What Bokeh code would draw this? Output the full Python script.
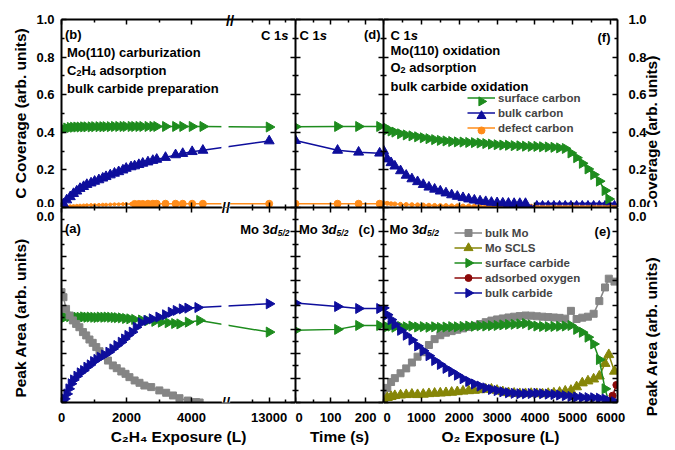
import math
from bokeh.plotting import figure
from bokeh.models import (Range1d, LinearAxis, FixedTicker, Label, Legend,
                          LegendItem, ColumnDataSource, PrintfTickFormatter)
from bokeh.layouts import gridplot
from bokeh.embed import file_html
from bokeh.resources import INLINE

FONT = "Liberation Sans"
GREEN = "#1E8C1E"
BLUE = "#0E0E9C"
ORANGE = "#FF8C1A"
GRAY = "#858585"
OLIVE = "#868608"
WINE = "#8C0A0A"

# ---------------- data: (b) C 1s, C2H4 exposure (L) ----------------
c2h4_c1s = [60, 160, 270, 370, 470, 570, 680, 780, 910, 1020,
            1150, 1270, 1370, 1500, 1630, 1760, 1890, 1990, 2140, 2250,
            2380, 2500, 2660, 2810, 2930, 3200, 3510, 3730, 4020, 4350,
            13000]
surface_carbon_b = [0.418, 0.423, 0.426, 0.427, 0.428, 0.428, 0.429, 0.429, 0.429, 0.430,
                    0.430, 0.430, 0.430, 0.430, 0.431, 0.431, 0.431, 0.431, 0.431, 0.431,
                    0.431, 0.431, 0.431, 0.431, 0.431, 0.431, 0.431, 0.431, 0.431, 0.431,
                    0.428]
bulk_carbon_b = [0.019, 0.040, 0.057, 0.074, 0.087, 0.101, 0.111, 0.122, 0.130, 0.139,
                 0.147, 0.156, 0.164, 0.173, 0.182, 0.190, 0.199, 0.208, 0.216, 0.221,
                 0.228, 0.235, 0.242, 0.250, 0.256, 0.266, 0.280, 0.287, 0.297, 0.304,
                 0.354]
defect_carbon_b = [0.005, 0.006, 0.007, 0.008, 0.009, 0.010, 0.011, 0.012, 0.013, 0.013,
                   0.014, 0.015, 0.015, 0.016, 0.017, 0.017, 0.018, 0.018, 0.019, 0.019,
                   0.019, 0.019, 0.020, 0.020, 0.020, 0.020, 0.020, 0.020, 0.020, 0.020,
                   0.020]

# ---------------- data: (a) Mo 3d5/2, C2H4 exposure (L) ----------------
c2h4_bulk_mo = [0, 60, 140, 250, 350, 450, 550, 660, 760, 860,
                960, 1070, 1170, 1270, 1430, 1580, 1700, 1840, 1970, 2090,
                2250, 2400, 2550, 2760, 3010, 3220, 3430, 3630, 3890, 4140,
                4250]
bulk_mo_a = [0.566, 0.540, 0.480, 0.446, 0.421, 0.403, 0.386, 0.361, 0.344, 0.323,
             0.306, 0.284, 0.263, 0.241, 0.215, 0.190, 0.176, 0.159, 0.147, 0.130,
             0.113, 0.101, 0.087, 0.079, 0.062, 0.050, 0.036, 0.022, 0.010, 0.002,
             0.000]
c2h4_bulk_carbide = [30, 92, 164, 226, 297, 369, 472, 574, 677, 779,
                     882, 985, 1087, 1190, 1323, 1456, 1579, 1703, 1836, 1938,
                     2041, 2174, 2297, 2451, 2626, 2790, 2995, 3200, 3374, 3528,
                     3713, 3887, 4195, 13000]
bulk_carbide_a = [0.010, 0.019, 0.044, 0.070, 0.096, 0.116, 0.135, 0.152, 0.164, 0.181,
                  0.193, 0.210, 0.221, 0.232, 0.244, 0.258, 0.275, 0.292, 0.309, 0.326,
                  0.344, 0.361, 0.386, 0.409, 0.421, 0.429, 0.438, 0.450, 0.463, 0.472,
                  0.480, 0.484, 0.487, 0.506]
c2h4_surface_carbide = [30, 120, 250, 370, 470, 570, 680, 780, 880, 990,
                        1090, 1190, 1300, 1400, 1510, 1620, 1720, 1840, 1970, 2100,
                        2250, 2460, 2660, 2870, 3070, 3280, 3480, 3640, 3900, 4250,
                        13000]
surface_carbide_a = [0.432, 0.438, 0.440, 0.438, 0.437, 0.437, 0.439, 0.437, 0.438, 0.437,
                     0.436, 0.438, 0.437, 0.438, 0.437, 0.436, 0.435, 0.434, 0.431, 0.429,
                     0.426, 0.423, 0.420, 0.416, 0.412, 0.409, 0.405, 0.403, 0.412, 0.421,
                     0.361]

# ---------------- data: (c)/(d) time (s) ----------------
time_s = [0, 120, 180, 240]
surface_carbon_d = [0.430, 0.431, 0.431, 0.431]
bulk_carbon_d = [0.356, 0.304, 0.294, 0.289]
defect_carbon_d = [0.020, 0.020, 0.020, 0.020]
surface_carbide_c = [0.370, 0.375, 0.395, 0.395]
bulk_carbide_c = [0.510, 0.492, 0.482, 0.482]

# ---------------- data: (e)/(f) O2 exposure (L) ----------------
o2_exposure = [0, 100, 200, 300, 450, 600, 750, 900, 1050, 1200,
               1350, 1500, 1650, 1800, 1950, 2100, 2250, 2400, 2550, 2700,
               2850, 3000, 3150, 3300, 3450, 3600, 3750, 3900, 4050, 4200,
               4350, 4500, 4650, 4800, 4950, 5100, 5250, 5400, 5550, 5700,
               5850, 5950, 6100]
surface_carbon_f = [0.431, 0.414, 0.407, 0.401, 0.392, 0.386, 0.381, 0.376, 0.371, 0.366,
                    0.361, 0.357, 0.354, 0.351, 0.349, 0.348, 0.346, 0.345, 0.343, 0.340,
                    0.337, 0.334, 0.332, 0.331, 0.329, 0.328, 0.326, 0.325, 0.325, 0.323,
                    0.322, 0.320, 0.317, 0.314, 0.290, 0.265, 0.235, 0.205, 0.175, 0.140,
                    0.090, 0.045]
bulk_carbon_f = [0.302, 0.258, 0.238, 0.220, 0.195, 0.171, 0.152, 0.137, 0.122, 0.108,
                 0.097, 0.087, 0.077, 0.067, 0.059, 0.052, 0.045, 0.039, 0.034, 0.031,
                 0.027, 0.025, 0.023, 0.022, 0.021, 0.021, 0.021, 0.000, 0.022, 0.022,
                 0.022, 0.022, 0.022, 0.022, 0.022, 0.022, 0.022, 0.022, 0.022, 0.022,
                 0.022, 0.022, 0.022]
defect_carbon_f = [0.025, 0.022, 0.020, 0.019, 0.017, 0.016, 0.015, 0.014, 0.013, 0.012,
                   0.011, 0.010, 0.010, 0.009, 0.009, 0.008, 0.008, 0.008, 0.007, 0.007,
                   0.007, 0.007, 0.007, 0.007, 0.007, 0.007, 0.007, 0.007, 0.007, 0.007,
                   0.007, 0.007, 0.007, 0.007, 0.007, 0.007, 0.007, 0.007, 0.008, 0.008,
                   0.009, 0.010, 0.010]
bulk_mo_e = [0.030, 0.075, 0.105, 0.125, 0.150, 0.175, 0.205, 0.235, 0.258, 0.295,
             0.325, 0.345, 0.358, 0.366, 0.373, 0.380, 0.387, 0.393, 0.402, 0.412,
             0.420, 0.426, 0.431, 0.436, 0.440, 0.443, 0.446, 0.445, 0.442, 0.440,
             0.438, 0.436, 0.434, 0.430, 0.470, 0.428, 0.435, 0.440, 0.455, 0.520,
             0.590, 0.635, 0.620]
mo_scls_e = [0.010, 0.025, 0.030, 0.035, 0.038, 0.040, 0.042, 0.040, 0.042, 0.045,
             0.047, 0.048, 0.050, 0.052, 0.055, 0.058, 0.060, 0.062, 0.065, 0.068,
             0.068, 0.062, 0.055, 0.050, 0.047, 0.045, 0.045, 0.046, 0.045, 0.044,
             0.046, 0.048, 0.052, 0.058, 0.062, 0.080, 0.100, 0.110, 0.120, 0.135,
             0.200, 0.245, 0.160]
surface_carbide_e = [0.395, 0.388, 0.392, 0.386, 0.390, 0.388, 0.392, 0.387, 0.389, 0.386,
                     0.388, 0.385, 0.387, 0.389, 0.388, 0.390, 0.392, 0.391, 0.393, 0.392,
                     0.394, 0.395, 0.398, 0.400, 0.401, 0.403, 0.405, 0.398, 0.392, 0.390,
                     0.389, 0.390, 0.391, 0.392, 0.395, 0.375, 0.360, 0.335, 0.300, 0.220,
                     0.070, 0.005, 0.002]
bulk_carbide_e = [0.485, 0.450, 0.425, 0.400, 0.370, 0.345, 0.320, 0.290, 0.265, 0.240,
                  0.215, 0.195, 0.175, 0.158, 0.140, 0.122, 0.108, 0.095, 0.084, 0.075,
                  0.067, 0.061, 0.055, 0.050, 0.047, 0.045, 0.045, 0.046, 0.047, 0.045,
                  0.043, 0.041, 0.038, 0.035, 0.031, 0.028, 0.026, 0.025, 0.024, 0.022,
                  0.018, 0.008, 0.004]
o2_oxygen = [5950, 6050, 6150]
adsorbed_oxygen_e = [0.008, 0.035, 0.090]

# ---------------- ticks ----------------
c2h4_ticks = [0, 2000, 4000, 13000]
c2h4_minor = [1000, 3000, 12500, 13500]
time_ticks = [0, 100, 200]
time_minor = [50, 150, 250]
o2_ticks = [0, 1000, 2000, 3000, 4000, 5000, 6000]
o2_minor = [500, 1500, 2500, 3500, 4500, 5500]
cov_ticks = [0.0, 0.2, 0.4, 0.6, 0.8, 1.0]
cov_minor = [0.1, 0.3, 0.5, 0.7, 0.9]
area_ticks = [0.0, 0.125, 0.25, 0.375, 0.5, 0.625, 0.75, 0.875, 1.0]
area_minor = [0.0625, 0.1875, 0.3125, 0.4375, 0.5625, 0.6875, 0.8125, 0.9375]

x_titles = ["C\u2082H\u2084 Exposure (L)", "Time (s)", "O\u2082 Exposure (L)"]
cov_title = "C Coverage (arb. units)"
NBSP6 = "\u00a0" * 6  # nudges the left title a little downwards, as in the reference
area_title = "Peak Area (arb. units)"

# broken C2H4 axis: 5060 .. 11670 L is cut out
BREAK_LO, BREAK_HI = 5060, 11670


def brk(xs):
    return [x if x <= BREAK_LO else x - (BREAK_HI - BREAK_LO) for x in xs]


# ---------------- layout geometry (page pixels) ----------------
COLS = [(61, 234, Range1d(0, 7200)), (295, 88, Range1d(0, 251)), (383, 234, Range1d(0, 6180))]
ROWS = [(13, 194, Range1d(0, 1)), (207, 195, Range1d(0, 1))]
RIGHT_B, BOTTOM_B = 58, 48
XT = [(brk(c2h4_ticks), brk(c2h4_minor)), (time_ticks, time_minor), (o2_ticks, o2_minor)]
YT = [(cov_ticks, cov_minor), (area_ticks, area_minor)]
TITLE_Y = [112.5, 317]  # page y of the centre of the right-hand titles
ROW_H = 15  # legend row height
GLYPH_W = 28

W = {" ": 278, "(": 333, ")": 333, "/": 278, ".": 278, "C": 722, "E": 667, "H": 722,
     "L": 611, "M": 833, "O": 778, "T": 611, "a": 556, "b": 611, "c": 556, "d": 611,
     "e": 556, "g": 611, "i": 278, "k": 556, "l": 278, "m": 889, "n": 611, "o": 611,
     "p": 611, "r": 389, "s": 556, "t": 333, "u": 611, "x": 556, "y": 556, "z": 500,
     "f": 333, "v": 556}


def tw(s, size):
    return sum(W.get(ch, 556) for ch in s) * size / 1000.0


def style_axis(ax, show, standoff):
    ax.axis_line_width = 2
    ax.axis_line_color = "black"
    ax.major_tick_in = 5
    ax.major_tick_out = 0
    ax.minor_tick_in = 3
    ax.minor_tick_out = 0
    ax.major_tick_line_width = 1.5
    ax.minor_tick_line_width = 1.5
    ax.axis_label = None
    if show:
        ax.major_label_text_font = FONT
        ax.major_label_text_font_style = "bold"
        ax.major_label_text_font_size = "13px"
        ax.major_label_text_color = "black"
        ax.major_label_standoff = standoff
    else:
        ax.major_label_text_font_size = "0px"
        ax.major_label_standoff = 0


def set_title(ax, text, standoff):
    ax.axis_label = text
    ax.axis_label_text_font = FONT
    ax.axis_label_text_font_style = "bold"
    ax.axis_label_text_font_size = "15.5px"
    ax.axis_label_text_color = "black"
    ax.axis_label_standoff = standoff


def label_axis(value, text, size, standoff, orientation=0.0):
    # an axis with a single labelled tick and no line / tick marks
    ax = LinearAxis(ticker=FixedTicker(ticks=[value], minor_ticks=[]))
    ax.major_label_overrides = {value: text}
    ax.major_label_orientation = orientation
    ax.axis_line_color = None
    ax.major_tick_line_color = None
    ax.minor_tick_line_color = None
    ax.major_tick_in = 0
    ax.major_tick_out = 0
    ax.major_label_text_font = FONT
    ax.major_label_text_font_style = "bold"
    ax.major_label_text_font_size = size
    ax.major_label_text_color = "black"
    ax.major_label_standoff = standoff
    return ax


class Panel:
    def __init__(self, ci, ri):
        fl, fw, xr = COLS[ci]
        ft, fh, yr = ROWS[ri]
        self.fl, self.fw, self.xr, self.ft, self.fh, self.yr = fl, fw, xr, ft, fh, yr
        ml = fl if ci == 0 else 0
        mr = RIGHT_B if ci == 2 else 0
        mt = ft if ri == 0 else 0
        mb = BOTTOM_B if ri == 1 else 0
        p = figure(width=ml + fw + mr, height=mt + fh + mb, x_range=xr, y_range=yr,
                   output_backend="svg", toolbar_location=None,
                   x_axis_location=None, y_axis_location=None,
                   min_border_left=ml, min_border_right=mr,
                   min_border_top=mt, min_border_bottom=mb)
        p.grid.visible = False
        p.outline_line_color = None
        p.background_fill_color = "white"
        p.border_fill_color = "white"
        self.p = p
        xmaj, xmin = XT[ci]
        ymaj, ymin = YT[ri]
        for side in ("below", "above"):
            show = side == "below" and ri == 1
            ax = LinearAxis(ticker=FixedTicker(ticks=xmaj, minor_ticks=xmin))
            style_axis(ax, show, 10)
            if show:
                set_title(ax, x_titles[ci], 3)
                if ci == 0:
                    ax.major_label_overrides = {t: str(r) for t, r in zip(brk(c2h4_ticks), c2h4_ticks)}
            p.add_layout(ax, side)
        if ri == 0 and ci == 0:
            # break mark "//" across the top frame line
            p.add_layout(label_axis(BREAK_LO, "//", "15px", -1), "above")
        title = cov_title if ri == 0 else area_title
        # left side
        ax = LinearAxis(ticker=FixedTicker(ticks=ymaj, minor_ticks=ymin))
        show = ri == 0 and ci == 0
        style_axis(ax, show, 7)
        if show:
            ax.formatter = PrintfTickFormatter(format="%.1f")
            set_title(ax, title, 4)
        p.add_layout(ax, "left")
        if ri == 1 and ci == 0:
            # lower half of the "0.0" that sits on the border between the rows
            hz = label_axis(1.0, "0.0", "13px", 7)
            set_title(hz, title + NBSP6, 4)
            p.add_layout(hz, "left")
        # right side
        ax = LinearAxis(ticker=FixedTicker(ticks=ymaj, minor_ticks=ymin))
        show = ri == 0 and ci == 2
        style_axis(ax, show, 11)
        if show:
            ax.formatter = PrintfTickFormatter(format="%.1f")
        p.add_layout(ax, "right")
        if ci == 2:
            if ri == 1:
                p.add_layout(label_axis(1.0, "0.0", "13px", 11), "right")
            tv = yr.start + (ft + fh - TITLE_Y[ri]) / fh * (yr.end - yr.start)
            p.add_layout(label_axis(tv, title, "15.5px", 2, math.pi / 2), "right")

    def to_data(self, px, py):
        xr, yr = self.xr, self.yr
        x = xr.start + (px - self.fl) / self.fw * (xr.end - xr.start)
        y = yr.start + (self.ft + self.fh - py) / self.fh * (yr.end - yr.start)
        return x, y


def rich(pn, segs, px, base, align="left"):
    total = sum(tw(t, sz) for t, sz, st, dy in segs)
    if align == "right":
        x = px - total
    elif align == "center":
        x = px - total / 2
    else:
        x = px
    for t, sz, st, dy in segs:
        lead = len(t) - len(t.lstrip(" "))
        X, Y = pn.to_data(x + tw(" " * lead, sz), base + dy)
        pn.p.add_layout(Label(x=X, y=Y, text=t.strip(" "), text_font=FONT,
                              text_font_style=st, text_font_size=f"{sz}px",
                              text_align="left", text_baseline="alphabetic",
                              text_color="black"))
        x += tw(t, sz)


def series(p, xs, ys, color, marker, size, angle=0.0, lw=1.5):
    src = ColumnDataSource(dict(x=xs, y=ys, s=size if isinstance(size, list) else [size] * len(xs)))
    l = p.line("x", "y", source=src, line_color=color, line_width=lw)
    p.scatter("x", "y", source=src, marker=marker, size="s", angle=angle,
              fill_color=color, line_color=color)
    return l


def legend(pn, items, loc):
    # items: (label, line renderer, color, marker, size, angle)
    pn.p.add_layout(Legend(items=[LegendItem(label=it[0], renderers=[it[1]]) for it in items],
                           location=loc, label_text_font=FONT, label_text_font_style="bold",
                           label_text_font_size="11.5px", glyph_width=GLYPH_W, glyph_height=ROW_H,
                           label_height=ROW_H, spacing=0, padding=0, margin=0, label_standoff=3,
                           border_line_color=None, background_fill_alpha=0))
    # markers of the legend samples (Bokeh's legend would not rotate them)
    vx, vy = loc
    top = pn.ft + pn.fh - vy - ROW_H * len(items)
    cx = pn.fl + vx + GLYPH_W / 2
    for i, (_, _, color, marker, size, angle) in enumerate(items):
        X, Y = pn.to_data(cx, top + ROW_H / 2 + ROW_H * i)
        pn.p.scatter([X], [Y], marker=marker, size=size, angle=angle,
                     fill_color=color, line_color=color)


RT = -math.pi / 2  # right-pointing triangle

b = Panel(0, 0)
d = Panel(1, 0)
f = Panel(2, 0)
a = Panel(0, 1)
c = Panel(1, 1)
e = Panel(2, 1)

# ---- (b)
series(b.p, brk(c2h4_c1s), defect_carbon_b, ORANGE, "circle",
       [7 if x >= 2200 else 3 for x in c2h4_c1s])
series(b.p, brk(c2h4_c1s), bulk_carbon_b, BLUE, "triangle", 10)
series(b.p, brk(c2h4_c1s), surface_carbon_b, GREEN, "triangle", 10, RT)
# ---- (a)
series(a.p, brk(c2h4_surface_carbide), surface_carbide_a, GREEN, "triangle", 10, RT)
series(a.p, brk(c2h4_bulk_mo), bulk_mo_a, GRAY, "square", 7)
series(a.p, brk(c2h4_bulk_carbide), bulk_carbide_a, BLUE, "triangle", 10, RT)
# break gap
for pn in (b, a):
    pn.p.quad(left=[4920], right=[5140], bottom=[0], top=[1], fill_color="white", line_color=None)
for pn, ys in ((b, (207,)), (a, (207, 402))):
    for yy in ys:
        X, Y = pn.to_data(225.5, yy)
        pn.p.add_layout(Label(x=X, y=Y, text="//", text_font=FONT, text_font_style="bold",
                              text_font_size="15px", text_align="center", text_baseline="middle",
                              background_fill_color="white", text_color="black"))

# ---- (d), (c)
series(d.p, time_s, defect_carbon_d, ORANGE, "circle", 7)
series(d.p, time_s, bulk_carbon_d, BLUE, "triangle", 10)
series(d.p, time_s, surface_carbon_d, GREEN, "triangle", 10, RT)
series(c.p, time_s, surface_carbide_c, GREEN, "triangle", 10, RT)
series(c.p, time_s, bulk_carbide_c, BLUE, "triangle", 10, RT)

# ---- (f)
l_def = series(f.p, o2_exposure, defect_carbon_f, ORANGE, "circle", 4)
l_bulk = series(f.p, o2_exposure, bulk_carbon_f, BLUE, "triangle",
                [10 if x <= 3750 else 5 for x in o2_exposure])
l_surf = series(f.p, o2_exposure[:len(surface_carbon_f)], surface_carbon_f, GREEN, "triangle", 10, RT)

# ---- (e)
l_mo = series(e.p, o2_exposure, bulk_mo_e, GRAY, "square", 7)
l_scls = series(e.p, o2_exposure, mo_scls_e, OLIVE, "triangle", 10)
l_sc = series(e.p, o2_exposure, surface_carbide_e, GREEN, "triangle", 10, RT)
l_ox = series(e.p, o2_oxygen, adsorbed_oxygen_e, WINE, "circle", 7)
l_bc = series(e.p, o2_exposure, bulk_carbide_e, BLUE, "triangle", 10, RT)

legend(f, [("surface carbon", l_surf, GREEN, "triangle", 9, RT),
           ("bulk carbon", l_bulk, BLUE, "triangle", 9, 0.0),
           ("defect carbon", l_def, ORANGE, "circle", 7, 0.0)], (84, 72))
legend(e, [("bulk Mo", l_mo, GRAY, "square", 7, 0.0),
           ("Mo SCLS", l_scls, OLIVE, "triangle", 9, 0.0),
           ("surface carbide", l_sc, GREEN, "triangle", 9, RT),
           ("adsorbed oxygen", l_ox, WINE, "circle", 7, 0.0),
           ("bulk carbide", l_bc, BLUE, "triangle", 9, RT)], (71, 102))

# ---- texts inside panels
B, BI = "bold", "bold italic"
C1S = [("C 1", 13, B, 0), ("s", 13, BI, 0)]
MO3D = [("Mo 3", 13, B, 0), ("d", 13, BI, 0), ("5/2", 8.5, BI, 3)]
rich(b, [("(b)", 13, B, 0)], 64.5, 28.5)
rich(b, C1S, 288, 30, "right")
rich(b, [("Mo(110) carburization", 13, B, 0)], 66.5, 47.5)
rich(b, [("C", 13, B, 0), ("2", 9, B, 3), ("H", 13, B, 0), ("4", 9, B, 3),
         (" adsorption", 13, B, 0)], 66.5, 65.5)
rich(b, [("bulk carbide preparation", 13, B, 0)], 66.5, 84)
rich(d, C1S, 299, 30)
rich(d, [("(d)", 13, B, 0)], 380, 28.5, "right")
rich(f, C1S, 390, 30)
rich(f, [("(f)", 13, B, 0)], 610, 32, "right")
rich(f, [("Mo(110) oxidation", 13, B, 0)], 390, 45)
rich(f, [("O", 13, B, 0), ("2", 9, B, 3), (" adsorption", 13, B, 0)], 390, 62.5)
rich(f, [("bulk carbide oxidation", 13, B, 0)], 390, 82)
rich(a, [("(a)", 13, B, 0)], 64.5, 228)
rich(a, MO3D, 289, 229, "right")
rich(c, MO3D, 298.5, 229)
rich(c, [("(c)", 13, B, 0)], 374, 229, "right")
rich(e, MO3D, 389, 229)
rich(e, [("(e)", 13, B, 0)], 610, 231, "right")

grid = gridplot([[b.p, d.p, f.p], [a.p, c.p, e.p]], toolbar_location=None)
open("out.html", "w").write(file_html(grid, INLINE))
